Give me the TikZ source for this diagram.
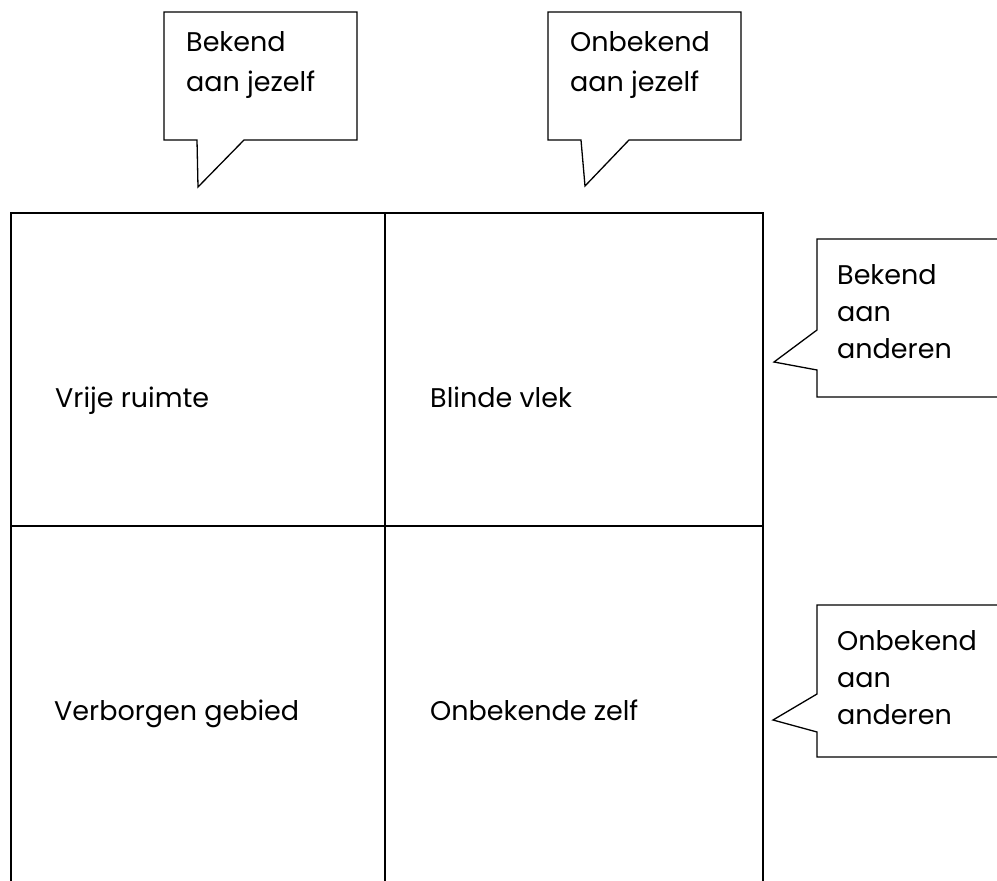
\documentclass[tikz,border=0pt]{standalone}
\usepackage{fontspec}
\setmainfont{Poppins}

\tikzset{
    grid/.style={line width=1.8pt},
    bubble/.style={draw, line width=1.3pt, line join=miter},
    quadtext/.style={anchor=base west, inner sep=0pt, font=\fontsize{27}{34}\selectfont},
    bubbletext/.style={anchor=north west, inner sep=0pt, align=left, font=\fontsize{27}{#1}\selectfont},
    bubbletext/.default=37,
}

\begin{document}
\begin{tikzpicture}[x=1pt, y=-1pt]
    \useasboundingbox (0,0) rectangle (997,881);
    \clip (0,0) rectangle (997,881);

    % Johari grid
    \draw[grid] (11,881) -- (11,213) -- (763,213) -- (763,881);
    \draw[grid] (385,213) -- (385,881);
    \draw[grid] (11,526) -- (763,526);

    \node[quadtext] (vrij) at (55,407) {Vrije ruimte};
    \node[quadtext] (blind) at (430,407) {Blinde vlek};
    \node[quadtext] (verborgen) at (54,720) {Verborgen gebied};
    \node[quadtext] (onbekend) at (430,720) {Onbekende zelf};

    % speech bubbles
    \draw[bubble] (164,12) -- (357,12) -- (357,140) -- (244,140) -- (198,187) -- (197,140) -- (164,140) -- cycle;
    \draw[bubble] (548,12) -- (741,12) -- (741,140) -- (629,140) -- (585,186) -- (581,140) -- (548,140) -- cycle;
    \draw[bubble] (817,239) -- (1010,239) -- (1010,397) -- (817,397) -- (817,370) -- (774,362) -- (817,330) -- cycle;
    \draw[bubble] (817,605) -- (1010,605) -- (1010,757) -- (817,757) -- (817,732) -- (773,720) -- (817,694) -- cycle;

    \node[bubbletext=40] (bekendzelf) at (186,31) {Bekend\\aan jezelf};
    \node[bubbletext=40] (onbekendzelf) at (570,31) {Onbekend\\aan jezelf};
    \node[bubbletext] (bekendander) at (837,264) {Bekend\\aan\\anderen};
    \node[bubbletext] (onbekendander) at (837,630) {Onbekend\\aan\\anderen};
\end{tikzpicture}
\end{document}
